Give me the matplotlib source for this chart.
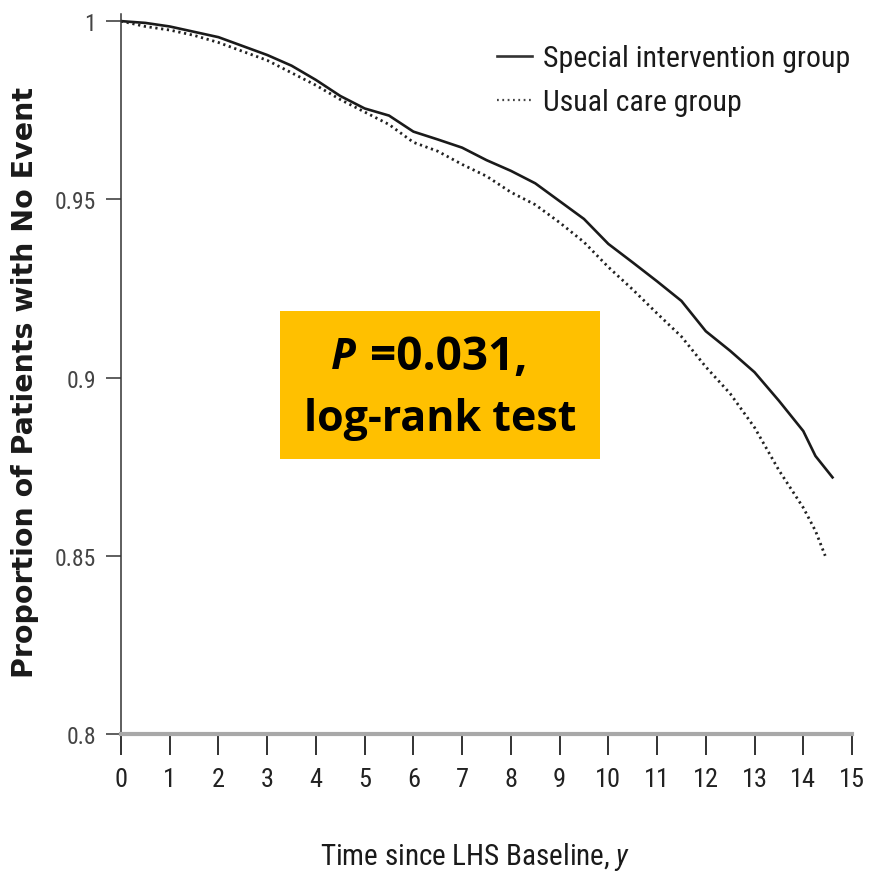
import matplotlib
matplotlib.use("Agg")
import matplotlib.pyplot as plt
from matplotlib import font_manager
from matplotlib.patches import Rectangle

# Kaplan-Meier style survival estimates (proportion with no event)
t_special = [0, 0.5, 1, 1.5, 2, 2.5, 3, 3.5, 4, 4.5, 5, 5.5, 6, 6.5, 7, 7.5,
             8, 8.5, 9, 9.5, 10, 10.5, 11, 11.5, 12, 12.5, 13, 13.5, 14, 14.25, 14.6]
s_special = [1.000, 0.9995, 0.9985, 0.997, 0.9955, 0.993, 0.9905, 0.9875, 0.9835,
             0.979, 0.9755, 0.9735, 0.969, 0.9668, 0.9645, 0.961, 0.958, 0.9545,
             0.9495, 0.9445, 0.9375, 0.9323, 0.927, 0.9215, 0.913, 0.9075, 0.9015,
             0.8935, 0.885, 0.878, 0.872]

t_usual = [0, 0.5, 1, 1.5, 2, 2.5, 3, 3.5, 4, 4.5, 5, 5.5, 6, 6.5, 7, 7.5,
           8, 8.5, 9, 9.5, 10, 10.5, 11, 11.5, 12, 12.5, 13, 13.5, 14, 14.25, 14.45]
s_usual = [1.000, 0.9985, 0.9975, 0.996, 0.994, 0.9915, 0.989, 0.9855, 0.982,
           0.978, 0.9745, 0.971, 0.966, 0.9635, 0.9598, 0.9565, 0.952, 0.9485,
           0.9435, 0.938, 0.931, 0.9247, 0.918, 0.9115, 0.903, 0.8955, 0.886,
           0.874, 0.8635, 0.857, 0.850]

x_ticks = list(range(0, 16))
y_ticks = [0.8, 0.85, 0.9, 0.95, 1.0]
y_tick_labels = ["0.8", "0.85", "0.9", "0.95", "1"]

series_labels = ["Special intervention group", "Usual care group"]
p_text = "=0.031,"
test_text = "log-rank test"


def has_family(name):
    try:
        font_manager.findfont(font_manager.FontProperties(family=name),
                              fallback_to_default=False)
        return True
    except Exception:
        return False


# Prefer a condensed face for the axis text; otherwise shrink Roboto a little
NARROW = None
for cand in ["Roboto Condensed", "Liberation Sans Narrow", "Arial Narrow"]:
    if has_family(cand):
        NARROW = cand
        break
if NARROW is None:
    NARROW = "Roboto"
    scale = 0.86
else:
    scale = 1.0

plt.rcParams["mathtext.fontset"] = "custom"
plt.rcParams["mathtext.it"] = f"{NARROW}:italic"
plt.rcParams["mathtext.rm"] = NARROW

W, H = 873, 878
fig = plt.figure(figsize=(W / 100, H / 100), dpi=100)
ax = fig.add_axes([121 / W, 1 - 735 / H, (852 - 121) / W, (735 - 15) / H])

ax.plot(t_special, s_special, color="#1a1a1a", lw=1.9, solid_joinstyle="round")
ax.plot(t_usual, s_usual, color="#222222", lw=2.0, linestyle=(0, (0.8, 1.3)))

ax.set_xlim(0, 15)
ax.set_ylim(0.8, 1.002)

for side in ("top", "right"):
    ax.spines[side].set_visible(False)
ax.spines["left"].set_color("#333333")
ax.spines["left"].set_linewidth(1.1)
ax.spines["bottom"].set_color("#a8a8a8")
ax.spines["bottom"].set_linewidth(3.0)

ax.set_xticks(x_ticks)
ax.set_xticklabels([str(v) for v in x_ticks], family=NARROW, fontsize=19 * scale,
                   color="#222222")
ax.set_yticks(y_ticks)
ax.set_yticklabels(y_tick_labels, family=NARROW, fontsize=17 * scale, color="#444444")
ax.tick_params(axis="x", direction="out", length=15, width=1.3, color="#222222", pad=9)
ax.tick_params(axis="y", direction="out", length=11, width=1.1, color="#333333", pad=7)

# Axis titles
fig.text(25 / W, 1 - 383 / H, "Proportion of Patients with No Event", rotation=90,
         ha="center", va="center", fontsize=20.5, fontweight="bold",
         family="DejaVu Sans", color="#1a1a1a")
fig.text(475 / W, 1 - 857 / H, r"Time since LHS Baseline, $y$", ha="center", va="center",
         fontsize=21 * scale, family=NARROW, color="#1a1a1a")

# Legend drawn as line samples plus labels
ax_leg = fig.add_axes([0, 0, 1, 1], facecolor="none")
ax_leg.set_xlim(0, W)
ax_leg.set_ylim(H, 0)
ax_leg.axis("off")
ax_leg.plot([497, 532], [57, 57], color="#333333", lw=1.9)
ax_leg.plot([497, 532], [101, 101], color="#444444", lw=1.6, linestyle=(0, (0.8, 1.6)))
ax_leg.text(543, 59, series_labels[0], ha="left", va="center", fontsize=21.5 * scale,
            family=NARROW, color="#1a1a1a")
ax_leg.text(543, 103, series_labels[1], ha="left", va="center", fontsize=21.5 * scale,
            family=NARROW, color="#1a1a1a")

# Highlighted test result
BOX_FONT = ["Open Sans", "DejaVu Sans"]
ax_leg.add_patch(Rectangle((280, 312), 320, 148, facecolor="#FFC000", edgecolor="none"))
ax_leg.text(331, 358, "P", ha="left", va="center", fontsize=31, fontweight="bold",
            style="italic", family=BOX_FONT, color="black")
ax_leg.text(370, 358, p_text, ha="left", va="center", fontsize=33, fontweight="bold",
            family=BOX_FONT, color="black")
ax_leg.text(440, 420, test_text, ha="center", va="center", fontsize=31, fontweight="bold",
            family=BOX_FONT, color="black")

fig.savefig("out.png", dpi=100)
